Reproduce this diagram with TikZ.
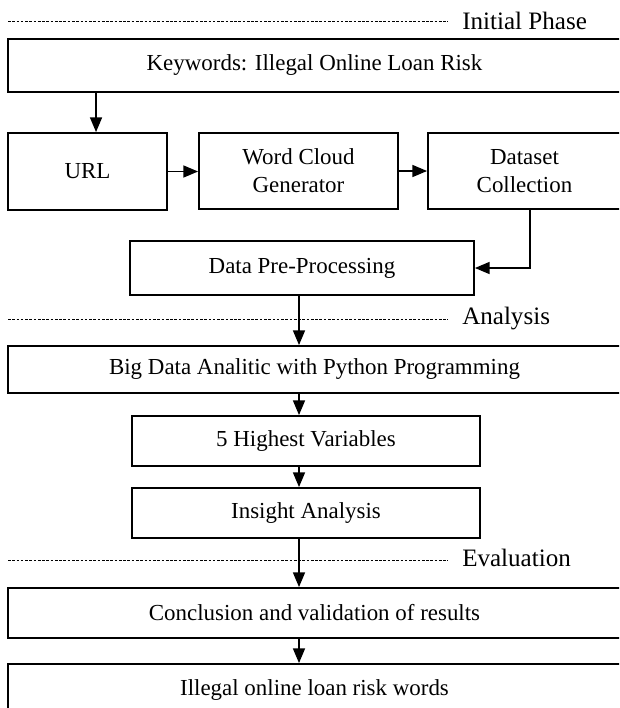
\documentclass[tikz,border=0pt]{standalone}
\usepackage{fontspec}
\setmainfont{Liberation Serif}
\usepackage{tikz}
\usetikzlibrary{arrows.meta}
\definecolor{qqqqqq}{rgb}{0.,0.,0.}
\newcommand{\boxfont}{\fontsize{17.2}{21}\selectfont}
\newcommand{\phasefont}{\fontsize{18.8}{21}\selectfont}

\begin{document}
\begin{tikzpicture}[line cap=butt,line join=miter,x=0.75pt,y=-0.75pt,
  >={Triangle[length=11pt,width=9pt]},
  box/.style={draw=qqqqqq,line width=1.4pt,inner sep=0pt,align=center,font=\boxfont},
  wide/.style={box,minimum width=459.75pt},
  flow/.style={->,line width=1.1pt,qqqqqq},
  phase/.style={dash pattern=on 2pt off 1.2pt,line width=0.5pt},
  phaselabel/.style={anchor=west,inner sep=0pt,font=\phasefont}]
\clip(0,0) rectangle (619,708);
\fill[white] (0,0) rectangle (619,708);
% phase separators
\coordinate (p1) at (8,21);
\coordinate (p2) at (8,319);
\coordinate (p3) at (8,560);
\coordinate (spine) at (299,0);
\draw[phase] (p1) -- (448,21);
\draw[phase] (p2) -- (448,319);
\draw[phase] (p3) -- (448,560);
\node[phaselabel] (initial) at (462,21) {Initial Phase};
\node[phaselabel] (analysis) at (462,319) {Analysis};
\node[phaselabel] (evaluation) at (462,558) {Evaluation};
% boxes
\node[wide,minimum height=39.75pt] (kw) at (314.5,65.5) {Keywords: Illegal Online Loan Risk};
\node[box,minimum width=119.25pt,minimum height=57.75pt] (url) at (87.5,171.5) {URL};
\node[box,minimum width=149.25pt,minimum height=57pt] (wc) at (298.5,171) {Word Cloud\\Generator};
\node[box,minimum width=144.75pt,minimum height=57pt] (ds) at (524.5,171) {Dataset\\Collection};
\node[box,minimum width=258pt,minimum height=40.5pt] (dpp) at (302,268) {Data Pre-Processing};
\node[wide,minimum height=35.25pt] (big) at (314.5,369.5) {Big Data Analitic with Python Programming};
\node[box,minimum width=261pt,minimum height=37.5pt] (high) at (306,441) {5 Highest Variables};
\node[box,minimum width=261pt,minimum height=37.5pt] (ins) at (306,513) {Insight Analysis};
\node[wide,minimum height=37.5pt] (conc) at (314.5,613) {Conclusion and validation of results};
\node[wide,minimum height=39pt] (ill) at (314.5,690) {Illegal online loan risk words};
% connectors
\draw[flow] ([xshift=6.4pt]url.north |- kw.south) -- ([xshift=6.4pt]url.north);
\draw[flow] (url.east) -- (url.east -| wc.west);
\draw[flow] (wc.east) -- (wc.east -| ds.west);
\draw[flow] ([xshift=4pt]ds.south) |- (dpp.east);
\draw[flow] (dpp.south -| spine) -- (big.north -| spine);
\draw[flow] (big.south -| spine) -- (high.north -| spine);
\draw[flow] (high.south -| spine) -- (ins.north -| spine);
\draw[flow] (ins.south -| spine) -- (conc.north -| spine);
\draw[flow] (conc.south -| spine) -- (ill.north -| spine);
\end{tikzpicture}
\end{document}
